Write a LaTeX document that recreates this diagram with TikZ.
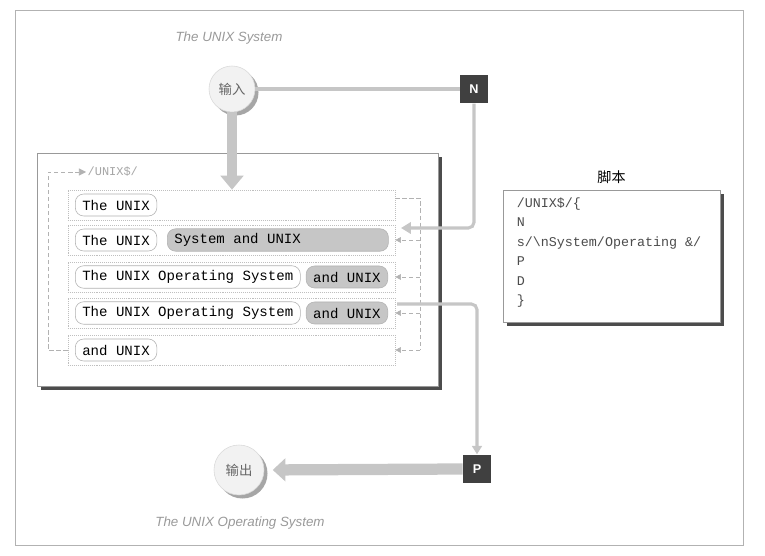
\documentclass[tikz,border=0pt]{standalone}
\usepackage{fontspec}
\setmainfont{Liberation Sans}
\setmonofont{Liberation Mono}
\newfontfamily\cjk{Noto Sans CJK SC}
\usetikzlibrary{arrows.meta,positioning,shadows}

\begin{document}
\begin{tikzpicture}[x=0.025cm, y=-0.025cm,
  lbl/.style={font=\itshape\fontsize{9.5}{11}\selectfont, text=gray!80},
  io/.style={circle, fill=gray!10, draw=gray!30, font=\cjk\fontsize{9.5}{11}\selectfont, text=gray!80!black,
    drop shadow={shadow xshift=2.5pt, shadow yshift=-2.5pt, fill=gray!70, opacity=1}},
  cmd/.style={rectangle, fill=black!75, text=white, font=\bfseries\small, minimum width=0.7cm, minimum height=0.72cm},
  panel/.style={draw=gray!80, fill=white, line width=0.6pt,
    drop shadow={shadow xshift=3pt, shadow yshift=-3pt, fill=black!70, opacity=1}},
  rowbox/.style={draw=gray!50, densely dotted, minimum width=8.175cm, minimum height=0.75cm},
  pill/.style={draw=gray!60, rounded corners=6pt, fill=white, font=\ttfamily\fontsize{10}{12}\selectfont,
    inner xsep=5pt, minimum height=0.55cm},
  hold/.style={pill, fill=gray!45},
  wire/.style={draw=gray!45, line width=2.2pt, rounded corners=4pt},
  fat/.style={draw=gray!45, line width=7pt},
  loopline/.style={draw=gray!60, densely dashed, thin},
  tip/.style={-{Triangle[length=4pt,width=4pt]}}
]
\useasboundingbox (0,0) rectangle (765,556);
% Frame
\draw[gray!60] (15,10) rectangle (743,545);
\node[lbl] (top) at (229,38) {The UNIX System};
\node[lbl] (bottom) at (240,523) {The UNIX Operating System};

% Pattern space
\node[panel, minimum width=10.025cm, minimum height=5.825cm] (space) at (237.5,269.5) {};
\node[anchor=west, font=\ttfamily\fontsize{8.5}{10}\selectfont, text=gray!70, inner sep=1pt] (addr) at (86,172) {/UNIX\$/};
\foreach \i/\y in {1/205, 2/240, 3/277, 4/313, 5/350} {
    \node[rowbox] (f\i) at (231.5,\y) {};
}
\node[pill, anchor=west] (a1) at (75,205) {The UNIX};
\node[pill, anchor=west] (a2) at (75,240) {The UNIX};
\node[hold, anchor=west] (b2) at (167,240) {\makebox[5.175cm][l]{System and UNIX}};
\node[pill, anchor=west] (a3) at (75,277) {The UNIX Operating System};
\node[hold, anchor=east] (b3) at (388,277) {and UNIX};
\node[pill, anchor=west] (a4) at (75,313) {The UNIX Operating System};
\node[hold, anchor=east] (b4) at (388,313) {and UNIX};
\node[pill, anchor=west] (a5) at (75,350) {and UNIX};

% Loops
\coordinate (lc) at (48,172);
\coordinate (rtop) at (420,198);
\coordinate (rbot) at (420,350);
\draw[loopline, -{Triangle[length=5pt,width=5pt]}] (f5.west) -| (lc) -- (addr.west);
\draw[loopline] (f1.east |- rtop) -- (rtop) -- (rbot);
\foreach \i in {2,...,5} {
    \draw[loopline, tip] (rtop |- f\i) -- (f\i.east);
}

% Input and output
\node[io, minimum size=1.15cm] (in) at (232,89) {输入};
\node[io, minimum size=1.25cm] (out) at (239,470) {输出};
\node[cmd] (n) at (474,89) {N};
\node[cmd] (p) at (477,469) {P};
\coordinate (nin) at (401,228);
\coordinate (pout) at (397,304);
\draw[wire] (in.east) -- (n.west);
\draw[wire, -{Triangle[length=7pt,width=8pt]}] (n.south) |- (nin);
\draw[wire, -{Triangle[length=6pt,width=7pt]}] (pout) -| (p.north);
\draw[fat, -{Triangle[length=10pt,width=16pt]}] (in.south) -- (in.south |- f1.north);
\draw[fat, line width=8pt, shorten >=6pt, -{Triangle[length=9pt,width=16pt]}] (p.west) -- (out.east);

% Script
\node[panel, minimum width=5.425cm, minimum height=3.3cm] (script) at (611.5,256) {};
\node[anchor=north west, align=left, inner sep=0pt, font=\ttfamily\fontsize{9.5}{13.8}\selectfont, text=black!70]
  (code) at ([shift={(14,8)}]script.north west)
  {/UNIX\$/\{\\N\\s/\textbackslash nSystem/Operating \&/\\P\\D\\\}};
\node[above=1pt of script, font=\cjk\fontsize{10}{12}\selectfont] (title) {脚本};
\end{tikzpicture}
\end{document}
